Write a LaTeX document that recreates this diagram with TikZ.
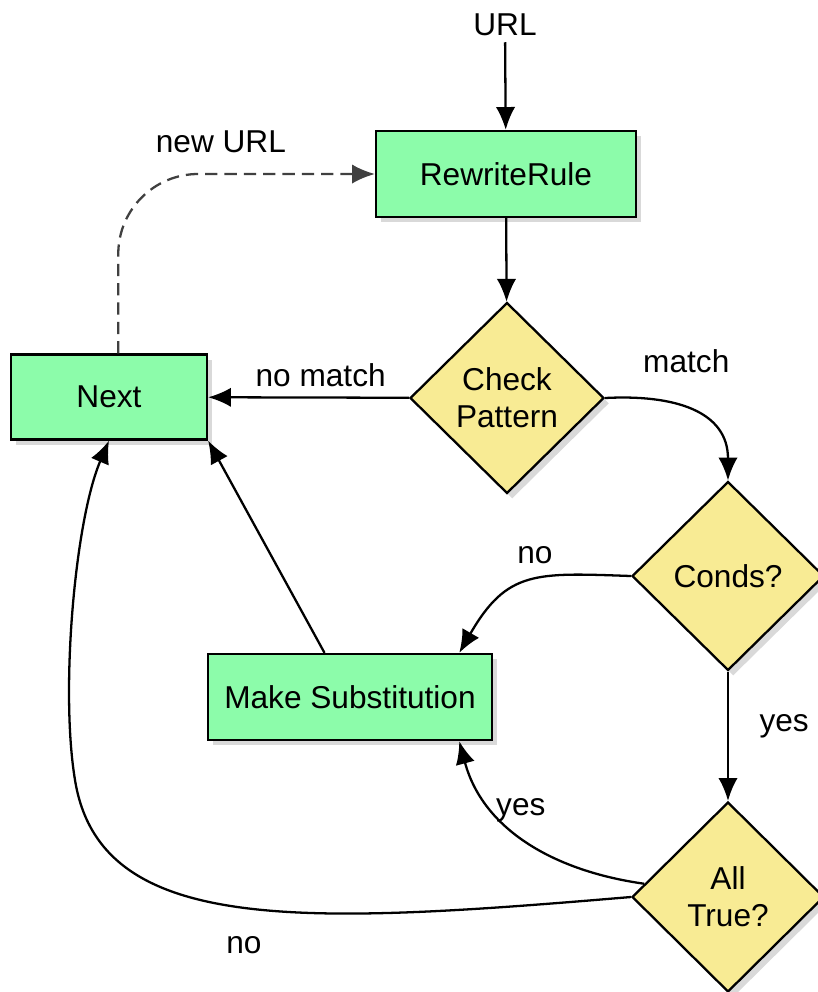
\documentclass[tikz,border=0pt]{standalone}
\usepackage{fontspec}
\setmainfont{Liberation Sans}
\usetikzlibrary{shapes.geometric,arrows.meta,shadows}
\definecolor{boxgreen}{RGB}{140,252,170}
\definecolor{askyellow}{RGB}{248,235,148}

\begin{document}
\begin{tikzpicture}[x=0.02cm, y=0.02cm, font=\fontsize{18}{21}\selectfont,
     box/.style={draw, line width=1.3pt, fill=boxgreen, minimum height=1.72cm,
       drop shadow={shadow xshift=3pt, shadow yshift=-3pt, opacity=0.3}},
     ask/.style={draw, line width=1.3pt, fill=askyellow, diamond, aspect=1, inner sep=0pt,
       align=center, drop shadow={shadow xshift=3pt, shadow yshift=-3pt, opacity=0.3}},
     line/.style={line width=1.3pt, -{Latex[length=13pt,width=11pt]}},]

   \useasboundingbox (0,0) rectangle (818,-992);

   \node (url) at (505,-25) {URL};
   \node[box, minimum width=5.2cm] (rule) at (506,-174) {RewriteRule};
   \node[box, minimum width=3.92cm, minimum height=1.7cm] (next) at (109,-397) {Next};
   \node[ask, minimum width=3.88cm, minimum height=3.82cm] (check) at (507,-398) {Check\\Pattern};
   \node[ask, minimum width=3.84cm, minimum height=3.78cm] (conds) at (728,-576) {Conds?};
   \node[ask, minimum width=3.84cm, minimum height=3.8cm] (alltrue) at (728,-897) {All\\True?};
   \node[box, minimum width=5.68cm] (subst) at (350,-697) {Make Substitution};

   \draw[line] (url) -- (rule);
   \draw[line] (rule) -- (check);
   \draw[line] (check) -- node[above=2pt, pos=0.44]{no match} (next);
   \draw[line] (check.east) to[out=3, in=90, looseness=1.2] node[above=13pt, xshift=9pt, pos=0.35]{match} (conds.north);
   \draw[line] (conds.west) to[out=178, in=60, looseness=1.3] node[above=5pt, pos=0.45]{no} (subst.22);
   \draw[line] (conds) -- node[right=14pt, pos=0.42]{yes} (alltrue);
   \draw[line] (alltrue.171) to[out=172, in=-75] node[above right=2pt, xshift=-13pt, yshift=-4pt, pos=0.6]{yes} (subst.-22);
   \draw[line] (alltrue.west) .. controls (300,-925) and (100,-935) .. node[below=12pt, pos=0.49]{no} (75,-780)
     .. controls (60,-690) and (75,-520) .. (next.south);
   \draw[line] (subst.120) -- (next.south east);
   \draw[line, dashed, draw=black!75, dash pattern=on 7pt off 4pt, rounded corners=1.6cm] (next.78) |- node[above=8pt, pos=0.7, text=black]{new URL} (rule.west);
\end{tikzpicture}
\end{document}
